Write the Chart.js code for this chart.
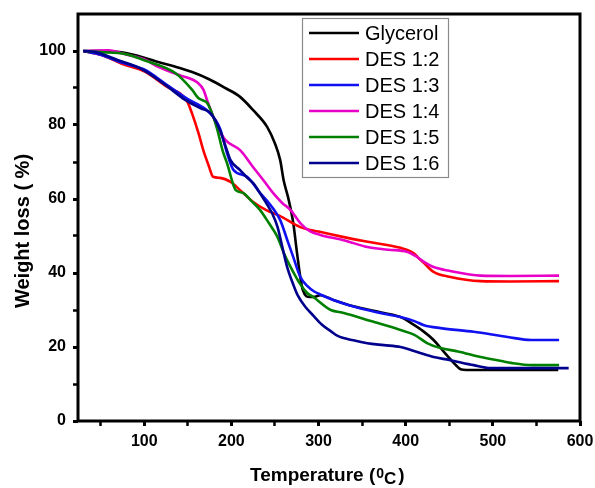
<!DOCTYPE html>
<html>
<head>
<meta charset="utf-8">
<script src="https://cdn.jsdelivr.net/npm/chart.js@4.4.1/dist/chart.umd.min.js"></script>
<style>
html,body{margin:0;padding:0;background:#fff;}
#wrap{width:595px;height:488px;position:relative;}
</style>
</head>
<body>
<div id="wrap"><canvas id="c" width="595" height="488"></canvas></div>
<script>
// ---- data ----
const seriesNames = ["Glycerol", "DES 1:2", "DES 1:3", "DES 1:4", "DES 1:5", "DES 1:6"];
const seriesColors = ["#000000", "#ff0000", "#1010f0", "#e800c8", "#008000", "#00008c"];

const glycerolT = [30, 50, 72, 100, 116, 135, 155, 175, 193, 210, 225, 241, 250, 256, 260, 265, 271, 275, 279, 282, 290, 296, 302, 317, 340, 375, 395, 406, 420, 432, 442, 452, 458, 463, 470, 500, 540, 575];
const glycerolW = [100, 100, 99.7, 98.2, 97, 95.8, 94.3, 92.3, 90, 87.6, 84, 79.5, 75, 70.5, 65, 60.5, 53.5, 46, 39, 35.4, 33.5, 33.6, 34, 32.7, 31, 29.2, 28, 26.5, 24.3, 21.9, 19.2, 16.5, 15, 14, 13.8, 13.8, 13.8, 13.8];

const des12T = [30, 50, 75, 100, 125, 149, 155, 162, 168, 174, 179, 187, 199, 210, 225, 240, 255, 279, 300, 329, 360, 394, 409, 415, 421, 432, 450, 486, 520, 576];
const des12W = [100, 99, 96.5, 94.5, 90.5, 86.5, 83, 78, 73, 69, 66, 65.7, 64.6, 62.4, 59.2, 57, 55.5, 52.4, 51.2, 49.7, 48.3, 46.8, 45.4, 44, 42.7, 40.3, 39, 37.8, 37.7, 37.8];

const des13T = [30, 50, 75, 100, 125, 150, 175, 187, 195, 202, 218, 233, 241, 256, 264, 271, 279, 287, 295, 302, 317, 335, 356, 375, 394, 410, 421, 440, 478, 517, 544, 576];
const des13W = [100, 99, 96.8, 95, 91, 87, 83.3, 79, 72.4, 68, 66, 61.6, 59.5, 54.3, 49, 44.3, 39, 36.5, 35, 34.2, 32.7, 31.3, 30, 29, 28.1, 27, 25.9, 25.1, 24.1, 22.7, 21.9, 21.9];

const des14T = [30, 59, 80, 100, 116, 140, 162, 168, 172, 178, 184, 193, 210, 225, 237, 248, 258, 268, 279, 290, 302, 330, 356, 380, 402, 412, 421, 432, 450, 486, 520, 576];
const des14W = [100, 100.2, 99, 97.8, 95.7, 93.5, 91.3, 89.5, 86.8, 83, 79.5, 76, 73.2, 68.6, 65, 61.6, 59, 57, 53.5, 51.3, 50.3, 48.8, 47, 46.3, 45.7, 44.5, 43, 41.6, 40.6, 39.3, 39.2, 39.3];

const des15T = [30, 50, 78, 100, 136, 155, 162, 168, 172, 178, 184, 190, 195, 202, 205, 214, 222, 233, 243, 253, 260, 268, 279, 287, 294, 314, 329, 360, 394, 410, 425, 440, 460, 486, 510, 521, 545, 576];
const des15W = [100, 99.7, 99.2, 97.5, 94, 89.5, 87.3, 86.6, 86, 83, 78.6, 73, 69.7, 64, 62.4, 61.6, 59.7, 57, 53.5, 49.7, 45.5, 41.6, 37, 34.6, 33.5, 30, 29.2, 27, 24.6, 23.3, 21, 19.7, 18.8, 17.3, 16.2, 15.7, 15.1, 15.1];

const des16T = [30, 44, 70, 98, 125, 147, 165, 176, 187, 193, 199, 210, 218, 225, 237, 241, 247, 253, 258, 264, 270, 276, 285, 294, 304, 314, 322, 340, 356, 375, 394, 414, 432, 450, 478, 497, 540, 587];
const des16W = [100, 99.7, 97.5, 95, 90.7, 86.8, 84.5, 83.2, 78.6, 74.5, 70.5, 67.8, 65.8, 64.3, 60, 58.5, 56, 52.4, 47.5, 41.6, 37.5, 34, 30.8, 28.5, 26, 24.3, 23, 21.8, 21, 20.5, 20, 18.6, 17.3, 16.5, 15.1, 14.3, 14.3, 14.3];

const xTickValues = [50, 100, 150, 200, 250, 300, 350, 400, 450, 500, 550, 600];
const yTickValues = [0, 10, 20, 30, 40, 50, 60, 70, 80, 90, 100];

const xTitle = ["Temperature (", "0", "C", ")"];
const yTitle = "Weight loss ( %)";

// ---- build chart ----
const tempArrays = [glycerolT, des12T, des13T, des14T, des15T, des16T];
const weightArrays = [glycerolW, des12W, des13W, des14W, des15W, des16W];

const datasets = seriesNames.map((name, i) => ({
  label: name,
  data: tempArrays[i].map((t, k) => ({x: t, y: weightArrays[i][k]})),
  borderColor: seriesColors[i],
  backgroundColor: seriesColors[i],
  borderWidth: 2.6,
  pointRadius: 0,
  fill: false,
  showLine: true,
  cubicInterpolationMode: 'monotone',
  order: seriesNames.length - i
}));

const FONT = "'Liberation Sans', Arial, sans-serif";

const decor = {
  id: 'decor',
  afterDatasetsDraw(chart) {
    const {ctx, chartArea: a} = chart;
    ctx.save();
    // frame
    ctx.strokeStyle = '#000';
    ctx.lineWidth = 3;
    ctx.strokeRect(a.left, a.top, a.right - a.left, a.bottom - a.top);

    // legend
    const lx = 302, ly = 18, lw = 146, lh = 159;
    ctx.fillStyle = '#fff';
    ctx.fillRect(lx, ly, lw, lh);
    ctx.strokeStyle = '#8a8a8a';
    ctx.lineWidth = 1.2;
    ctx.strokeRect(lx + 0.5, ly + 0.5, lw, lh);
    ctx.font = "20px " + FONT;
    ctx.textBaseline = 'middle';
    chart.data.datasets.forEach((ds, i) => {
      const y = 33 + i * 26;
      ctx.strokeStyle = ds.borderColor;
      ctx.lineWidth = 2.6;
      ctx.beginPath();
      ctx.moveTo(309, y);
      ctx.lineTo(359, y);
      ctx.stroke();
      ctx.fillStyle = '#000';
      ctx.fillText(ds.label, 365, y + 1);
    });

    // x title
    ctx.fillStyle = '#000';
    ctx.textBaseline = 'alphabetic';
    let x = 250;
    const by = 481;
    ctx.font = "bold 19px " + FONT;
    ctx.fillText(xTitle[0], x, by); x += ctx.measureText(xTitle[0]).width;
    ctx.font = "bold 14px " + FONT;
    ctx.fillText(xTitle[1], x + 1, by - 3); x += ctx.measureText(xTitle[1]).width + 1;
    ctx.font = "bold 17px " + FONT;
    ctx.fillText(xTitle[2], x, by + 3); x += ctx.measureText(xTitle[2]).width + 2;
    ctx.font = "bold 19px " + FONT;
    ctx.fillText(xTitle[3], x, by);

    // y title
    ctx.translate(23, 231);
    ctx.rotate(-Math.PI / 2);
    ctx.font = "bold 20px " + FONT;
    ctx.textAlign = 'center';
    ctx.textBaseline = 'middle';
    ctx.fillText(yTitle, 0, 0);
    ctx.restore();
  }
};

new Chart(document.getElementById('c'), {
  type: 'line',
  data: {datasets},
  plugins: [decor],
  options: {
    responsive: false,
    animation: false,
    layout: {padding: {top: 14, right: 15, left: 0, bottom: 0}},
    plugins: {legend: {display: false}, tooltip: {enabled: false}},
    scales: {
      x: {
        type: 'linear',
        min: 24, max: 600,
        afterBuildTicks: s => { s.ticks = xTickValues.map(v => ({value: v})); },
        afterFit: s => { s.height = 67; s.paddingLeft = 0; s.paddingRight = 0; },
        border: {display: false},
        grid: {
          drawOnChartArea: false, drawTicks: true, tickLength: 5,
          tickColor: '#000',
          tickWidth: c => (c.tick && c.tick.value % 100 === 0) ? 3 : 2.5
        },
        ticks: {
          color: '#000', padding: 6, maxRotation: 0, autoSkip: false,
          font: {family: FONT, size: 16, weight: 'bold'},
          callback: v => (v % 100 === 0 ? String(v) : '')
        }
      },
      y: {
        type: 'linear',
        min: 0, max: 110,
        afterBuildTicks: s => { s.ticks = yTickValues.map(v => ({value: v})); },
        afterFit: s => { s.width = 78; s.paddingTop = 0; s.paddingBottom = 0; },
        border: {display: false},
        grid: {
          drawOnChartArea: false, drawTicks: true, tickLength: 5,
          tickColor: '#000',
          tickWidth: c => (c.tick && c.tick.value % 20 === 0) ? 3 : 2.5
        },
        ticks: {
          color: '#000', padding: 7, autoSkip: false,
          font: {family: FONT, size: 16, weight: 'bold'},
          callback: v => (v % 20 === 0 ? String(v) : '')
        }
      }
    }
  }
});
</script>
</body>
</html>
